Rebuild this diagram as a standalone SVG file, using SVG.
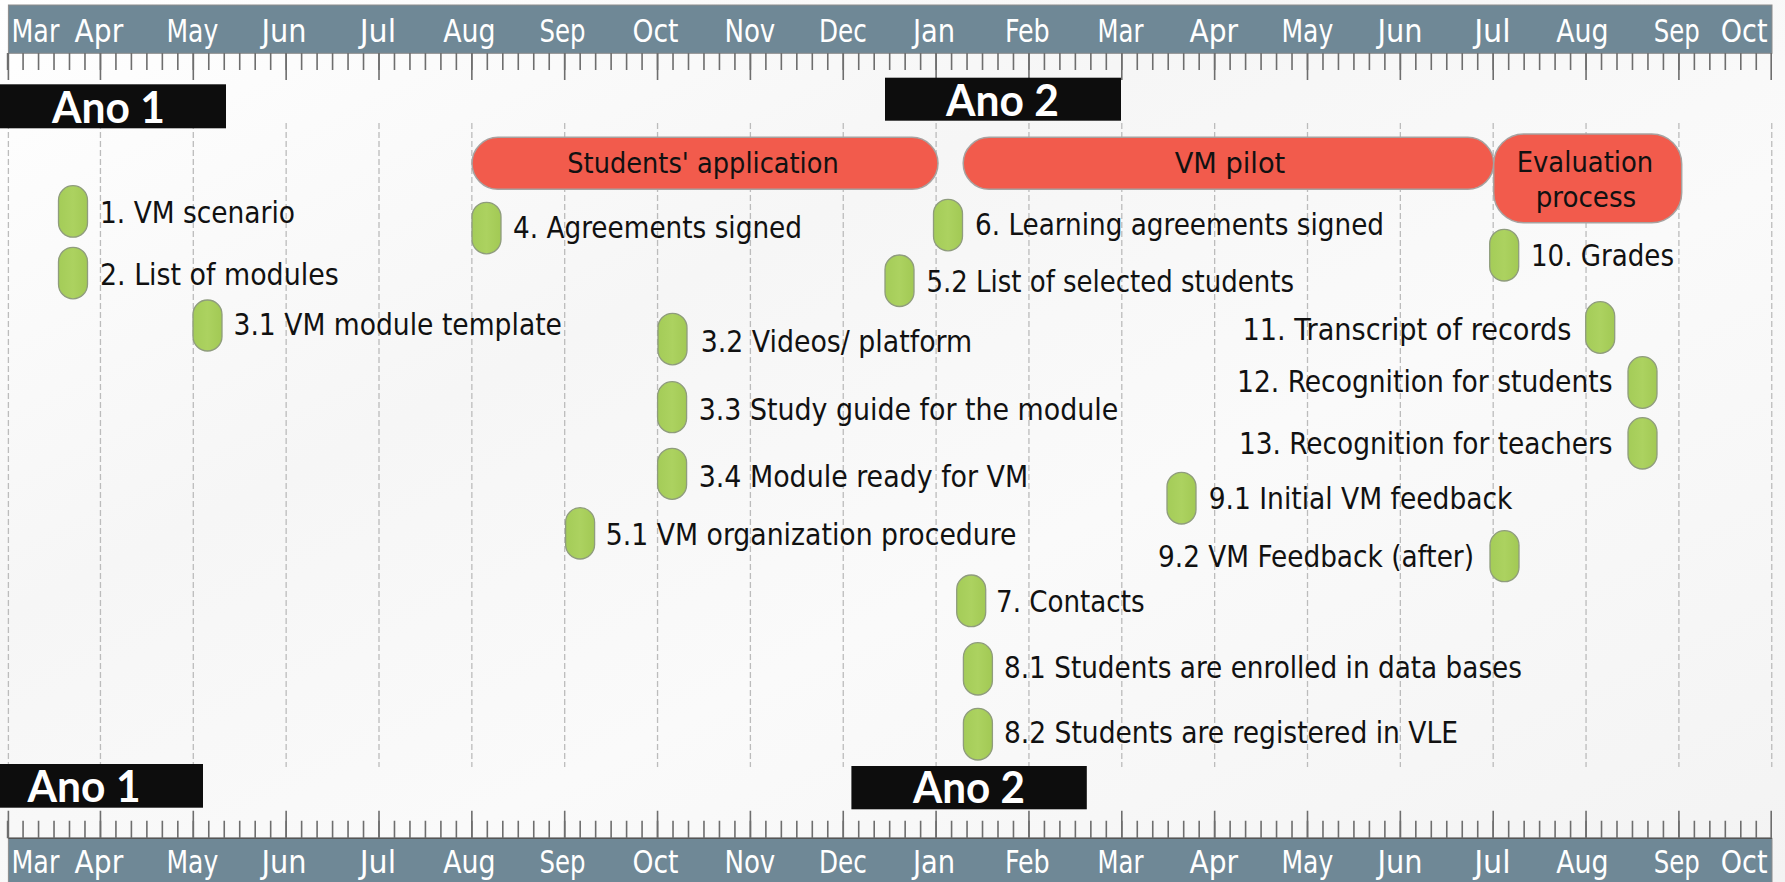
<svg xmlns="http://www.w3.org/2000/svg" width="1785" height="882" viewBox="0 0 1785 882">
<defs>
<linearGradient id="bg" x1="0" y1="0" x2="1" y2="1">
<stop offset="0" stop-color="#ffffff"/>
<stop offset="0.35" stop-color="#f6f6f6"/>
<stop offset="0.6" stop-color="#fafafa"/>
<stop offset="1" stop-color="#f3f3f3"/>
</linearGradient>
<linearGradient id="pillg" x1="0" y1="0" x2="1" y2="0">
<stop offset="0" stop-color="#a4cc58"/>
<stop offset="0.5" stop-color="#acd260"/>
<stop offset="1" stop-color="#a2c954"/>
</linearGradient>
<style>
.axis{fill:#6f8896;stroke:#8c8c8c;stroke-width:1}
.mon{font-family:"DejaVu Sans Condensed","DejaVu Sans",sans-serif;font-size:32px;fill:#ffffff}
.tick{stroke:#6e6e6e;stroke-width:1.6;fill:none}
.grid{stroke:#bcbcbc;stroke-width:1.3;stroke-dasharray:6 3;fill:none}
.year{fill:#0d0d0d}
.yt{font-family:Lato,"Open Sans",sans-serif;font-weight:bold;font-size:44px;fill:#ffffff}
.bar{fill:#f25b4c;stroke:#a7a2a0;stroke-width:1.5}
.bt{font-family:"DejaVu Sans Condensed","DejaVu Sans",sans-serif;font-size:29px;fill:#111111;text-anchor:middle}
.pill{fill:url(#pillg);stroke:#8f9c7d;stroke-width:1.3}
.lbl{font-family:"DejaVu Sans Condensed","DejaVu Sans",sans-serif;font-size:29.5px;fill:#111111}
</style>
</defs>
<rect x="0" y="0" width="1785" height="882" fill="url(#bg)"/>

<g id="gridlines">
<path class="grid" d="M8.4 123V767M100.45 123V767M193.3 123V767M286.15 123V767M379 123V767M471.85 123V767M564.7 123V767M657.55 123V767M750.4 123V767M843.25 123V767M936.1 123V767M1028.95 123V767M1121.8 123V767M1214.65 123V767M1307.5 123V767M1400.35 123V767M1493.2 123V767M1586.05 123V767M1678.9 123V767M1771.75 123V767"/>
</g>

<g id="top-axis">
<rect class="axis" x="8.4" y="5" width="1763.6" height="48.3"/>
<line x1="6.8" y1="61.5" x2="1772" y2="61.5" stroke="#6e6e6e" stroke-width="17" stroke-dasharray="1.6 13.875"/>
<path class="tick" d="M8.4 53V80M100.45 53V80M193.3 53V80M286.15 53V80M379 53V80M471.85 53V80M564.7 53V80M657.55 53V80M750.4 53V80M843.25 53V80M936.1 53V80M1028.95 53V80M1121.8 53V80M1214.65 53V80M1307.5 53V80M1400.35 53V80M1493.2 53V80M1586.05 53V80M1678.9 53V80M1771.2 53V80"/>
<text class="mon" x="11.5" y="41.7" textLength="47.8" lengthAdjust="spacingAndGlyphs">Mar</text>
<text class="mon" x="74.6" y="41.7" textLength="48.6" lengthAdjust="spacingAndGlyphs">Apr</text>
<text class="mon" x="166.5" y="41.7" textLength="51.7" lengthAdjust="spacingAndGlyphs">May</text>
<text class="mon" x="261.4" y="41.7" textLength="45" lengthAdjust="spacingAndGlyphs">Jun</text>
<text class="mon" x="359.7" y="41.7" textLength="36.4" lengthAdjust="spacingAndGlyphs">Jul</text>
<text class="mon" x="443.2" y="41.7" textLength="52.4" lengthAdjust="spacingAndGlyphs">Aug</text>
<text class="mon" x="539.6" y="41.7" textLength="46" lengthAdjust="spacingAndGlyphs">Sep</text>
<text class="mon" x="632.5" y="41.7" textLength="46" lengthAdjust="spacingAndGlyphs">Oct</text>
<text class="mon" x="724.4" y="41.7" textLength="50.9" lengthAdjust="spacingAndGlyphs">Nov</text>
<text class="mon" x="818.9" y="41.7" textLength="47.9" lengthAdjust="spacingAndGlyphs">Dec</text>
<text class="mon" x="913" y="41.7" textLength="42.1" lengthAdjust="spacingAndGlyphs">Jan</text>
<text class="mon" x="1004.9" y="41.7" textLength="44.8" lengthAdjust="spacingAndGlyphs">Feb</text>
<text class="mon" x="1097.5" y="41.7" textLength="45.9" lengthAdjust="spacingAndGlyphs">Mar</text>
<text class="mon" x="1189.5" y="41.7" textLength="48.6" lengthAdjust="spacingAndGlyphs">Apr</text>
<text class="mon" x="1281.5" y="41.7" textLength="51.7" lengthAdjust="spacingAndGlyphs">May</text>
<text class="mon" x="1377.6" y="41.7" textLength="45" lengthAdjust="spacingAndGlyphs">Jun</text>
<text class="mon" x="1474.2" y="41.7" textLength="36.4" lengthAdjust="spacingAndGlyphs">Jul</text>
<text class="mon" x="1556.2" y="41.7" textLength="52.4" lengthAdjust="spacingAndGlyphs">Aug</text>
<text class="mon" x="1653.8" y="41.7" textLength="46" lengthAdjust="spacingAndGlyphs">Sep</text>
<text class="mon" x="1720.8" y="41.7" textLength="46.7" lengthAdjust="spacingAndGlyphs">Oct</text>
</g>

<g id="bottom-axis">
<rect class="axis" x="8.4" y="838.3" width="1763.6" height="50"/>
<line x1="8.4" y1="838.3" x2="1772" y2="838.3" stroke="#555555" stroke-width="1.5"/>
<line x1="6.8" y1="829.5" x2="1772" y2="829.5" stroke="#6e6e6e" stroke-width="17.6" stroke-dasharray="1.6 13.875"/>
<path class="tick" d="M8.4 810.7V838M100.45 810.7V838M193.3 810.7V838M286.15 810.7V838M379 810.7V838M471.85 810.7V838M564.7 810.7V838M657.55 810.7V838M750.4 810.7V838M843.25 810.7V838M936.1 810.7V838M1028.95 810.7V838M1121.8 810.7V838M1214.65 810.7V838M1307.5 810.7V838M1400.35 810.7V838M1493.2 810.7V838M1586.05 810.7V838M1678.9 810.7V838M1771.2 810.7V838"/>
<text class="mon" x="11.5" y="873.3" textLength="47.8" lengthAdjust="spacingAndGlyphs">Mar</text>
<text class="mon" x="74.6" y="873.3" textLength="48.6" lengthAdjust="spacingAndGlyphs">Apr</text>
<text class="mon" x="166.5" y="873.3" textLength="51.7" lengthAdjust="spacingAndGlyphs">May</text>
<text class="mon" x="261.4" y="873.3" textLength="45" lengthAdjust="spacingAndGlyphs">Jun</text>
<text class="mon" x="359.7" y="873.3" textLength="36.4" lengthAdjust="spacingAndGlyphs">Jul</text>
<text class="mon" x="443.2" y="873.3" textLength="52.4" lengthAdjust="spacingAndGlyphs">Aug</text>
<text class="mon" x="539.6" y="873.3" textLength="46" lengthAdjust="spacingAndGlyphs">Sep</text>
<text class="mon" x="632.5" y="873.3" textLength="46" lengthAdjust="spacingAndGlyphs">Oct</text>
<text class="mon" x="724.4" y="873.3" textLength="50.9" lengthAdjust="spacingAndGlyphs">Nov</text>
<text class="mon" x="818.9" y="873.3" textLength="47.9" lengthAdjust="spacingAndGlyphs">Dec</text>
<text class="mon" x="913" y="873.3" textLength="42.1" lengthAdjust="spacingAndGlyphs">Jan</text>
<text class="mon" x="1004.9" y="873.3" textLength="44.8" lengthAdjust="spacingAndGlyphs">Feb</text>
<text class="mon" x="1097.5" y="873.3" textLength="45.9" lengthAdjust="spacingAndGlyphs">Mar</text>
<text class="mon" x="1189.5" y="873.3" textLength="48.6" lengthAdjust="spacingAndGlyphs">Apr</text>
<text class="mon" x="1281.5" y="873.3" textLength="51.7" lengthAdjust="spacingAndGlyphs">May</text>
<text class="mon" x="1377.6" y="873.3" textLength="45" lengthAdjust="spacingAndGlyphs">Jun</text>
<text class="mon" x="1474.2" y="873.3" textLength="36.4" lengthAdjust="spacingAndGlyphs">Jul</text>
<text class="mon" x="1556.2" y="873.3" textLength="52.4" lengthAdjust="spacingAndGlyphs">Aug</text>
<text class="mon" x="1653.8" y="873.3" textLength="46" lengthAdjust="spacingAndGlyphs">Sep</text>
<text class="mon" x="1720.8" y="873.3" textLength="46.7" lengthAdjust="spacingAndGlyphs">Oct</text>
</g>

<g id="year-top-1"><rect class="year" x="0" y="84.3" width="226" height="44"/><text class="yt" x="52" y="123.3" textLength="113" lengthAdjust="spacingAndGlyphs">Ano 1</text></g>
<g id="year-top-2"><rect class="year" x="885" y="77.7" width="236" height="43"/><text class="yt" x="946" y="116" textLength="113" lengthAdjust="spacingAndGlyphs">Ano 2</text></g>
<g id="year-bottom-1"><rect class="year" x="0" y="764" width="203" height="43.7"/><text class="yt" x="27.6" y="801.7" textLength="113" lengthAdjust="spacingAndGlyphs">Ano 1</text></g>
<g id="year-bottom-2"><rect class="year" x="851.4" y="766" width="235.4" height="43.3"/><text class="yt" x="913" y="803.3" textLength="112" lengthAdjust="spacingAndGlyphs">Ano 2</text></g>

<g id="phase-students-application"><rect class="bar" x="472" y="137.3" width="466" height="52" rx="26"/><text class="bt" x="703" y="173.3" textLength="271.5" lengthAdjust="spacingAndGlyphs">Students' application</text></g>
<g id="phase-vm-pilot"><rect class="bar" x="963.2" y="137.3" width="530.5" height="52" rx="26"/><text class="bt" x="1230" y="173.3" textLength="110.6" lengthAdjust="spacingAndGlyphs">VM pilot</text></g>
<g id="phase-evaluation"><rect class="bar" x="1493.7" y="134" width="188" height="88.7" rx="30"/><text class="bt" x="1585" y="171.7" textLength="136.6" lengthAdjust="spacingAndGlyphs">Evaluation</text><text class="bt" x="1586" y="206.7" textLength="100.5" lengthAdjust="spacingAndGlyphs">process</text></g>

<g id="connectors"/>

<g id="m1"><rect class="pill" x="58.5" y="185.7" width="29" height="51.5" rx="14.5"/><text class="lbl" x="100" y="222.7" textLength="195" lengthAdjust="spacingAndGlyphs">1. VM scenario</text></g>
<g id="m2"><rect class="pill" x="58.5" y="247.3" width="29" height="51.5" rx="14.5"/><text class="lbl" x="100" y="285" textLength="238.7" lengthAdjust="spacingAndGlyphs">2. List of modules</text></g>
<g id="m3-1"><rect class="pill" x="193" y="300" width="29" height="51" rx="14.5"/><text class="lbl" x="233.5" y="335" textLength="328.5" lengthAdjust="spacingAndGlyphs">3.1 VM module template</text></g>
<g id="m4"><rect class="pill" x="472" y="202.3" width="29" height="51.5" rx="14.5"/><text class="lbl" x="513" y="238.3" textLength="289" lengthAdjust="spacingAndGlyphs">4. Agreements signed</text></g>
<g id="m6"><rect class="pill" x="933.5" y="199.3" width="29" height="51.5" rx="14.5"/><text class="lbl" x="975" y="235" textLength="409" lengthAdjust="spacingAndGlyphs">6. Learning agreements signed</text></g>
<g id="m5-2"><rect class="pill" x="885" y="255" width="29" height="51.5" rx="14.5"/><text class="lbl" x="926.5" y="292" textLength="367.5" lengthAdjust="spacingAndGlyphs">5.2 List of selected students</text></g>
<g id="m3-2"><rect class="pill" x="658" y="313.3" width="29" height="51.5" rx="14.5"/><text class="lbl" x="700.7" y="351.7" textLength="271.5" lengthAdjust="spacingAndGlyphs">3.2 Videos/ platform</text></g>
<g id="m3-3"><rect class="pill" x="657.6" y="381.7" width="29" height="51" rx="14.5"/><text class="lbl" x="698.7" y="420" textLength="419.5" lengthAdjust="spacingAndGlyphs">3.3 Study guide for the module</text></g>
<g id="m3-4"><rect class="pill" x="657.6" y="448.3" width="29" height="51" rx="14.5"/><text class="lbl" x="698.7" y="486.7" textLength="329.5" lengthAdjust="spacingAndGlyphs">3.4 Module ready for VM</text></g>
<g id="m5-1"><rect class="pill" x="565.6" y="507.7" width="29" height="51.3" rx="14.5"/><text class="lbl" x="605.8" y="545" textLength="410.7" lengthAdjust="spacingAndGlyphs">5.1 VM organization procedure</text></g>
<g id="m10"><rect class="pill" x="1489.7" y="229.3" width="29" height="51.7" rx="14.5"/><text class="lbl" x="1531" y="265.7" textLength="143" lengthAdjust="spacingAndGlyphs">10. Grades</text></g>
<g id="m11"><rect class="pill" x="1585.7" y="301.7" width="29" height="51.6" rx="14.5"/><text class="lbl" x="1242.5" y="340" textLength="329" lengthAdjust="spacingAndGlyphs">11. Transcript of records</text></g>
<g id="m12"><rect class="pill" x="1628" y="356.7" width="29" height="51.6" rx="14.5"/><text class="lbl" x="1237" y="392.3" textLength="375.5" lengthAdjust="spacingAndGlyphs">12. Recognition for students</text></g>
<g id="m13"><rect class="pill" x="1628" y="417.7" width="29" height="51.3" rx="14.5"/><text class="lbl" x="1239" y="454" textLength="373.5" lengthAdjust="spacingAndGlyphs">13. Recognition for teachers</text></g>
<g id="m9-1"><rect class="pill" x="1167" y="472.3" width="29" height="51.7" rx="14.5"/><text class="lbl" x="1208.7" y="509.3" textLength="303.8" lengthAdjust="spacingAndGlyphs">9.1 Initial VM feedback</text></g>
<g id="m9-2"><rect class="pill" x="1490" y="530.7" width="29" height="51" rx="14.5"/><text class="lbl" x="1158" y="566.7" textLength="316" lengthAdjust="spacingAndGlyphs">9.2 VM Feedback (after)</text></g>
<g id="m7"><rect class="pill" x="956.7" y="575" width="29" height="51.7" rx="14.5"/><text class="lbl" x="996" y="611.7" textLength="148.6" lengthAdjust="spacingAndGlyphs">7. Contacts</text></g>
<g id="m8-1"><rect class="pill" x="963.4" y="642.7" width="29" height="52.3" rx="14.5"/><text class="lbl" x="1004" y="678.3" textLength="518" lengthAdjust="spacingAndGlyphs">8.1 Students are enrolled in data bases</text></g>
<g id="m8-2"><rect class="pill" x="963.4" y="708.3" width="29" height="51.7" rx="14.5"/><text class="lbl" x="1004" y="743.3" textLength="454" lengthAdjust="spacingAndGlyphs">8.2 Students are registered in VLE</text></g>
</svg>
